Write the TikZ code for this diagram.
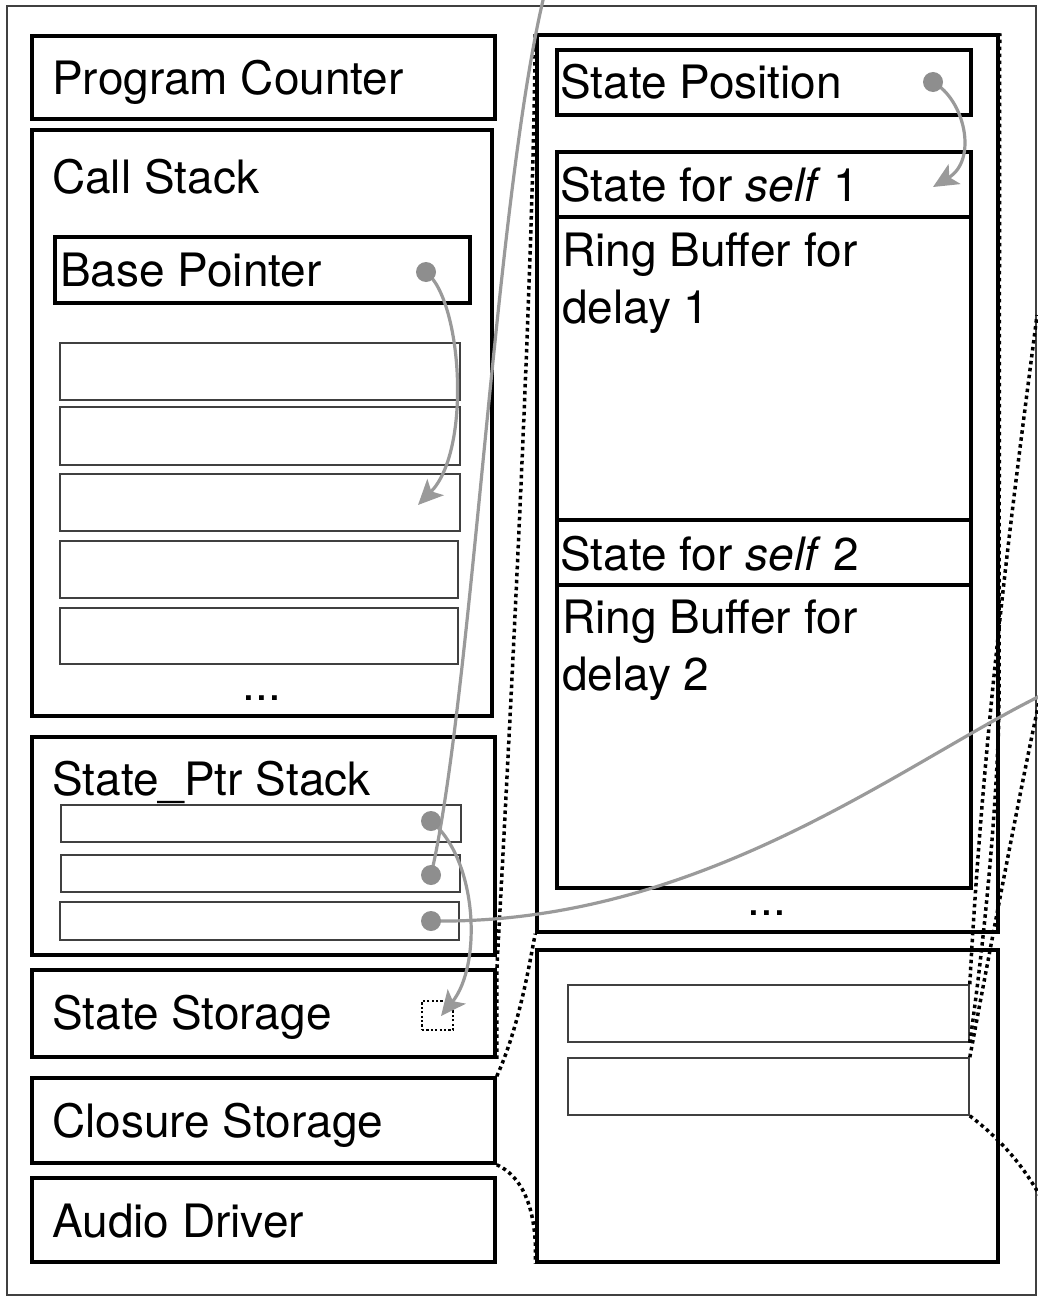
\documentclass[tikz,border=0pt]{standalone}
\usepackage{fontspec}
\setmainfont{TeX Gyre Heros}
\usetikzlibrary{arrows.meta,fit}
\definecolor{ptrgray}{HTML}{9A9A9A}
\definecolor{dotgray}{HTML}{8E8E8E}
\begin{document}
\begin{tikzpicture}[x=1pt,y=-1pt,
  box/.style={draw=black,line width=3.5pt,inner sep=0pt},
  cell/.style={draw=black!75,line width=1.6pt,inner sep=0pt},
  lbl/.style={anchor=base west,inner sep=0pt,font=\fontsize{46}{56}\selectfont},
  ptr/.style={draw=ptrgray,line width=3.2pt,-{Stealth[length=25pt,width=23pt,inset=6pt]}},
  ptrline/.style={draw=ptrgray,line width=3.2pt},
  pdot/.style={fill=dotgray},
  link/.style={draw=black,line width=3.5pt,dash pattern=on 3.5pt off 3.5pt},
]
\useasboundingbox (0,0) rectangle (1038,1298);
\clip (0,0) rectangle (1038,1298);
\node[draw=black!75,line width=1.8pt,inner sep=0pt,fit={(7,6) (1036,1295)}] (frame) {};

% left column
\node[box,fit={(32,36) (495,119)}] (pc) {};
\node[lbl] (pct) at (52,95) {Program Counter};
\node[box,fit={(32,130) (492,716)}] (cs) {};
\node[lbl] (cst) at (52,193) {Call Stack};
\node[box,fit={(55,237) (470,303)}] (bp) {};
\node[lbl] (bpt) at (60,286) {Base Pointer};
\node[cell,fit={(60,343) (460,400)}] (s1) {};
\node[cell,fit={(60,407) (460,465)}] (s2) {};
\node[cell,fit={(60,474) (460,531)}] (s3) {};
\node[cell,fit={(60,541) (458,598)}] (s4) {};
\node[cell,fit={(60,608) (458,664)}] (s5) {};
\node[lbl,anchor=base] (csdots) at (262,700) {...};

\node[box,fit={(32,737) (495,955)}] (sp) {};
\node[lbl] (spt) at (52,795) {State\_Ptr Stack};
\node[cell,fit={(61,805) (461,842)}] (p1) {};
\node[cell,fit={(61,855) (460,892)}] (p2) {};
\node[cell,fit={(60,902) (459,940)}] (p3) {};

\node[box,fit={(32,970) (495,1057)}] (ss) {};
\node[lbl] (sst) at (52,1029) {State Storage};
\node[draw=black,line width=2.2pt,dash pattern=on 2.2pt off 2.2pt,inner sep=0pt,fit={(422,1001) (453,1030)}] (ssmini) {};
\node[box,fit={(32,1078) (495,1163)}] (cl) {};
\node[lbl] (clt) at (52,1137) {Closure Storage};
\node[box,fit={(32,1178) (495,1262)}] (ad) {};
\node[lbl] (adt) at (52,1237) {Audio Driver};

% right column
\node[box,fit={(537,35) (998,932)}] (mem) {};
\node[box,fit={(557,50) (971,115)}] (pos) {};
\node[lbl] (post) at (560,99) {State Position};
\node[box,fit={(557,152) (971,217)}] (st1) {};
\node[lbl] (st1t) at (560,201) {State for \textit{self} 1};
\node[box,fit={(557,217) (971,520)}] (rb1) {};
\node[lbl] (rb1a) at (562,266) {Ring Buffer for};
\node[lbl] (rb1b) at (562,323) {delay 1};
\node[box,fit={(557,520) (971,585)}] (st2) {};
\node[lbl] (st2t) at (560,570) {State for \textit{self} 2};
\node[box,fit={(557,585) (971,888)}] (rb2) {};
\node[lbl] (rb2a) at (562,633) {Ring Buffer for};
\node[lbl] (rb2b) at (562,690) {delay 2};
\node[lbl,anchor=base] (memdots) at (767,915) {...};

\node[box,fit={(537,950) (998,1262)}] (clo) {};
\node[cell,fit={(568,985) (969,1042)}] (c1) {};
\node[cell,fit={(568,1058) (969,1115)}] (c2) {};

% named points
\coordinate (bpdot) at (426,272);
\coordinate (bptip) at (418,505);
\coordinate (posdot) at (933,82);
\coordinate (postip) at (933,187);
\coordinate (p1dot) at (431,821);
\coordinate (p1tip) at (441,1016);
\coordinate (p2dot) at (431,875);
\coordinate (p2out) at (544,-4);
\coordinate (p3dot) at (431,921);
\coordinate (p3out) at (1042,695);
\coordinate (outA) at (1037,315);
\coordinate (outC) at (1042,688);
\coordinate (outD) at (1040,1196);

% dotted links
\draw[link] (ss.south east) -- (497,965) .. controls (506,800) and (533,300) .. (mem.north west);
\draw[link] (cl.north east) .. controls (520,1025) and (530,960) .. (mem.south west);
\draw[link] (cl.south east) .. controls (530,1180) and (537,1225) .. (clo.south west);
\draw[link] (c1.north east) .. controls (985,700) and (1020,450) .. (outA);
\draw[link] (c1.south east) .. controls (990,900) and (999,760) .. (999,700) -- (mem.north east);
\draw[link] (c2.north east) .. controls (990,950) and (1020,790) .. (outC);
\draw[link] (c2.south east) .. controls (995,1135) and (1020,1160) .. (outD);

% pointers
\draw[ptr] (bpdot) .. controls (462,300) and (472,450) .. (bptip);
\draw[ptr] (posdot) .. controls (965,100) and (978,160) .. (postip);
\draw[ptr] (p1dot) .. controls (478,860) and (482,965) .. (p1tip);
\draw[ptrline] (p2dot) .. controls (472,700) and (495,200) .. (p2out);
\draw[ptrline] (p3dot) .. controls (700,925) and (900,765) .. (p3out);
\foreach \d in {bpdot,posdot,p1dot,p2dot,p3dot} \fill[pdot] (\d) circle (10pt);
\end{tikzpicture}
\end{document}
